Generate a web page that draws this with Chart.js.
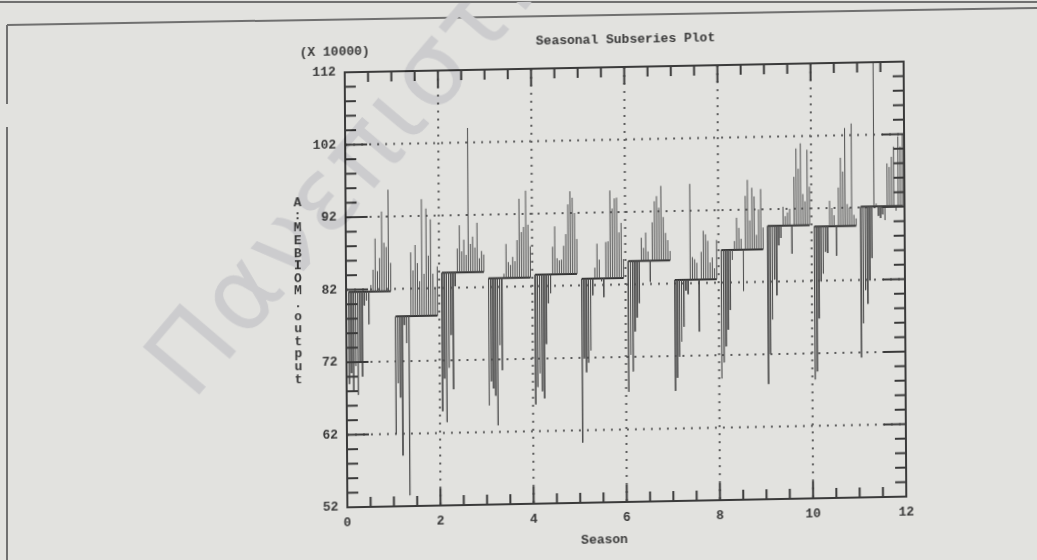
<!DOCTYPE html>
<html>
<head>
<meta charset="utf-8">
<script src="https://cdn.jsdelivr.net/npm/chart.js@4.4.1/dist/chart.umd.min.js"></script>
<style>
  html, body { margin: 0; padding: 0; background: #e2e2df; overflow: hidden; }
  #page { position: relative; width: 1037px; height: 560px; }
  #plot { position: absolute; left: 0; top: 0; transform: rotate(-1.1deg) skewX(-0.75deg); transform-origin: 625px 284px; }
  .rule { position: absolute; background: #707070; }
</style>
</head>
<body>
<div id="page">
  <div class="rule" style="left:0;top:1px;width:1037px;height:2px"></div>
  <div class="rule" style="left:7px;top:24px;width:1040px;height:2px;transform:rotate(-0.95deg);transform-origin:0 0"></div>
  <div class="rule" style="left:6px;top:25px;width:2px;height:79px"></div>
  <div class="rule" style="left:6px;top:127px;width:2px;height:433px"></div>
  <canvas id="plot" width="1037" height="560"></canvas>
</div>
<script>
// axis ticks
const seasonTicks = [0, 2, 4, 6, 8, 10, 12];
const outputTicks = [52, 62, 72, 82, 92, 102, 112];

// mean level of each season (x 10000)
const seasonMeans = [81.7, 78.2, 84.1, 83.2, 83.6, 82.9, 85.2, 82.5, 86.5, 89.7, 89.5, 92.1];

// one value per year, for each season (x 10000)
const season1 = [69, 70.5, 68, 71.5, 67.5, 72, 70, 79.8, 80.5, 77.2, 82.6, 84.7, 89, 84.5, 86.3, 92.7, 88.4, 87.8, 95.7, 85.6];
const season2 = [62, 69, 67, 59, 77, 74.5, 53.5, 87, 84.5, 88, 85.5, 83, 94.3, 84, 93, 86.5, 91.5, 84, 82, 85];
const season3 = [65, 69.5, 63.5, 71, 75.5, 68, 82.2, 87.4, 90.6, 87, 88.6, 86.5, 104, 88, 89, 87.5, 90.9, 86, 87, 86.5];
const season4 = [65.7, 69, 68, 67, 62.9, 74, 70.5, 83.8, 87.9, 85.4, 85, 86.1, 85.5, 88.4, 94.1, 89.5, 90.2, 95.2, 90.5, 87.5];
const season5 = [65.7, 68.1, 70, 67.5, 66.5, 74, 79.6, 81, 87.4, 90.2, 85.8, 85.5, 85.6, 87.5, 89.1, 93.2, 95, 94.1, 92, 88.4];
const season6 = [60.3, 71.9, 70, 71.3, 73, 80.6, 84.4, 87.7, 85.5, 82.5, 80.3, 87.9, 88, 95, 92.5, 93.9, 94, 89.2, 90.5, 85.5];
const season7 = [67.2, 72.3, 70, 75.5, 77.4, 79.4, 88.4, 87, 89.1, 86.5, 82.3, 90.5, 93.4, 94.1, 92.5, 95.5, 91.2, 89, 88, 86.5];
const season8 = [67.2, 69, 71.9, 74, 76, 81, 80.5, 95.7, 85.6, 85.3, 84.8, 75.3, 86.3, 89.2, 88.7, 87.8, 84.8, 85.5, 84, 87.9];
const season9 = [68.8, 71, 73.2, 75.5, 78.2, 85.1, 87.7, 90.9, 89.5, 88, 80.8, 93.9, 96.1, 90.5, 95, 93.8, 88.5, 92, 94.8, 89.5];
const season10 = [67.9, 72, 76.8, 82.3, 80.1, 87, 88, 92.3, 91, 91.5, 92, 85.8, 96.4, 100.3, 97.5, 101, 94, 93, 100.1, 95];
const season11 = [68.4, 69.5, 76.8, 81.9, 83, 86, 85.8, 93, 92, 91, 85.4, 94.8, 98.9, 97, 103, 92.5, 92, 103.6, 91, 90.5];
const season12 = [71.3, 76, 80.6, 78.7, 81.9, 85, 112, 92.5, 90.8, 90.5, 91, 90.2, 98, 97.5, 98.9, 100.3, 91.5, 101.7, 100.3, 102];
const seasonValues = [season1, season2, season3, season4, season5, season6,
    season7, season8, season9, season10, season11, season12];

const ink = "#4e4e4e";
const printFont = "bold 13px 'Liberation Mono', monospace";

// mean line per season, and one vertical stroke from the mean to each year's value
const meanLine = [];
const yearLines = [];
seasonValues.forEach((vals, i) => {
    const start = i + 0.06, end = i + 0.96;
    const m = seasonMeans[i];
    meanLine.push({ x: start, y: m }, { x: end, y: m }, { x: end, y: null });
    vals.forEach((v, j) => {
        const x = start + j * (end - start) / (vals.length - 1);
        yearLines.push({ x: x, y: m }, { x: x, y: v }, { x: x, y: null });
    });
});

function seg(ctx, x1, y1, x2, y2) {
    ctx.beginPath();
    ctx.moveTo(x1, y1);
    ctx.lineTo(x2, y2);
    ctx.stroke();
}

const printerFrame = {
    id: "printerFrame",
    beforeDatasetsDraw(chart) {
        const { ctx, chartArea: a, scales: { x, y } } = chart;
        ctx.save();
        ctx.strokeStyle = "#5c5c5c";
        ctx.lineWidth = 2;
        ctx.setLineDash([2, 6]);
        seasonTicks.slice(1, -1).forEach(v => {
            const px = x.getPixelForValue(v);
            seg(ctx, px, a.top, px, a.bottom);
        });
        outputTicks.slice(1, -1).forEach(v => {
            const py = y.getPixelForValue(v);
            seg(ctx, a.left, py, a.right, py);
        });
        ctx.restore();
    },
    afterDatasetsDraw(chart) {
        const { ctx, chartArea: a, scales: { x, y } } = chart;
        ctx.save();
        ctx.strokeStyle = "#3a3a3a";
        ctx.lineWidth = 2;
        ctx.strokeRect(a.left, a.top, a.right - a.left, a.bottom - a.top);

        // inward ticks on all four sides
        for (let v = 0.5; v < 12; v += 0.5) {
            const len = v % 2 === 0 ? 17 : 10;
            const px = x.getPixelForValue(v);
            seg(ctx, px, a.bottom, px, a.bottom - len);
            seg(ctx, px, a.top, px, a.top + len);
        }
        for (let v = 54; v < 112; v += 2) {
            const len = (v - 52) % 10 === 0 ? 22 : 11;
            const py = y.getPixelForValue(v);
            seg(ctx, a.left, py, a.left + len, py);
            seg(ctx, a.right, py, a.right - len, py);
        }

        ctx.fillStyle = "#3a3a3a";
        ctx.font = printFont;
        ctx.textAlign = "center";
        ctx.textBaseline = "middle";
        ctx.fillText("Seasonal Subseries Plot", 627, 40);
        ctx.fillText("(X 10000)", 336, 47);
        ctx.fillText("Season", 603, 540);
        const yLabel = "A:MEBIOM.output";
        [...yLabel].forEach((ch, k) => ctx.fillText(ch, 298, 197 + k * 12.6));
        ctx.restore();
    },
    afterDraw(chart) {
        // scan watermark over the printout
        const { ctx } = chart;
        ctx.save();
        ctx.globalCompositeOperation = "multiply";
        ctx.fillStyle = "rgb(204,204,206)";
        ctx.font = "102px 'DejaVu Sans'";
        ctx.letterSpacing = "3px";
        ctx.translate(192, 394);
        ctx.rotate(-49 * Math.PI / 180);
        ctx.textAlign = "left";
        ctx.textBaseline = "alphabetic";
        ctx.fillText("Πανεπιστήμιο", 0, 0);
        ctx.restore();
    }
};

new Chart(document.getElementById("plot").getContext("2d"), {
    type: "scatter",
    data: {
        datasets: [
            {
                data: yearLines,
                showLine: true,
                spanGaps: false,
                borderColor: ink,
                borderWidth: 1,
                pointRadius: 0
            },
            {
                data: meanLine,
                showLine: true,
                spanGaps: false,
                borderColor: "#333333",
                borderWidth: 2,
                pointRadius: 0
            }
        ]
    },
    options: {
        responsive: false,
        animation: false,
        devicePixelRatio: 1,
        layout: { padding: { left: 286, right: 132, top: 67, bottom: 18 } },
        plugins: {
            legend: { display: false },
            tooltip: { enabled: false }
        },
        scales: {
            x: {
                type: "linear",
                min: 0,
                max: 12,
                afterBuildTicks: scale => { scale.ticks = seasonTicks.map(v => ({ value: v })); },
                afterFit: scale => { scale.height = 40; },
                grid: { display: false, drawTicks: false },
                border: { display: false },
                ticks: { color: "#3a3a3a", font: { family: "'Liberation Mono', monospace", size: 13, weight: "bold" }, padding: 8, maxRotation: 0 }
            },
            y: {
                type: "linear",
                min: 52,
                max: 112,
                afterBuildTicks: scale => { scale.ticks = outputTicks.map(v => ({ value: v })); },
                afterFit: scale => { scale.width = 60; },
                grid: { display: false, drawTicks: false },
                border: { display: false },
                ticks: { color: "#3a3a3a", font: { family: "'Liberation Mono', monospace", size: 13, weight: "bold" }, padding: 9 }
            }
        }
    },
    plugins: [printerFrame]
});
</script>
</body>
</html>
